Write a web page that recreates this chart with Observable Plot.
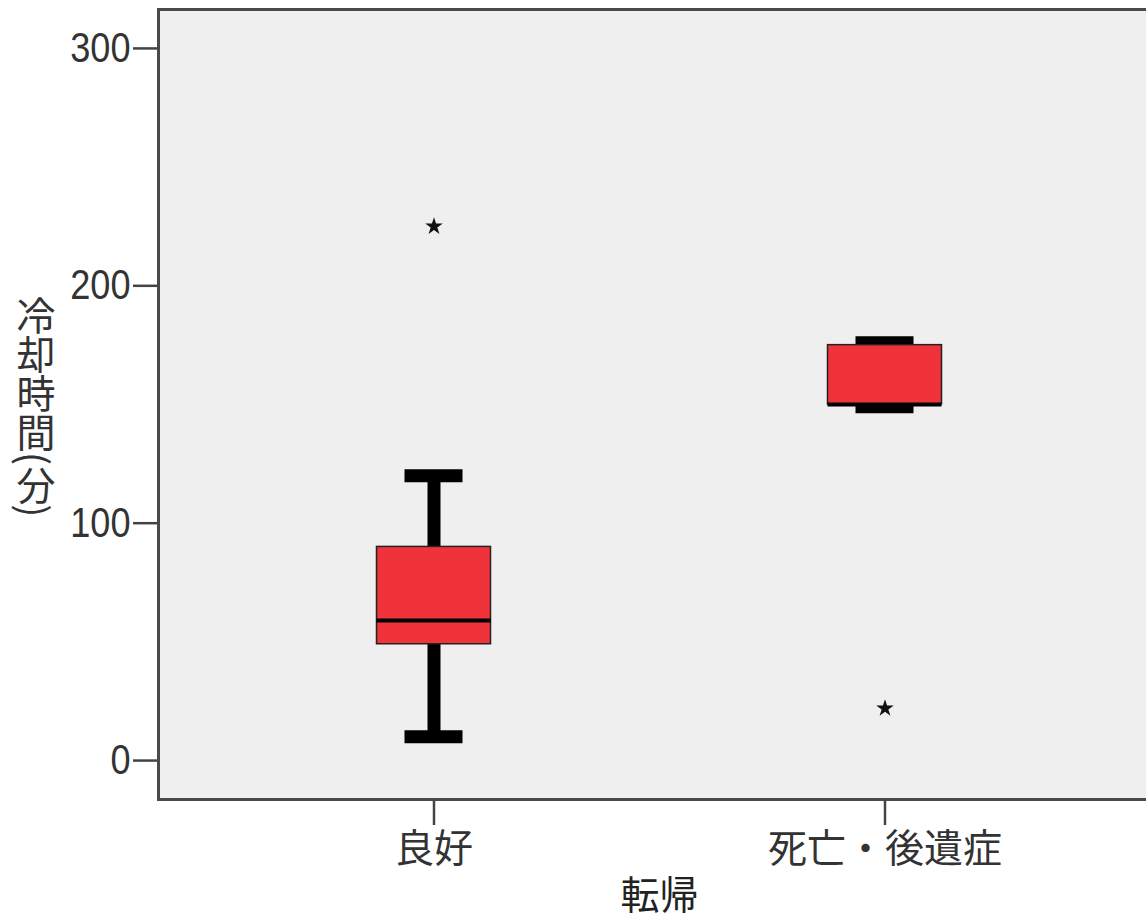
<!DOCTYPE html>
<html>
<head>
<meta charset="utf-8">
<script src="https://cdn.jsdelivr.net/npm/d3@7"></script>
<script src="https://cdn.jsdelivr.net/npm/@observablehq/plot@0.6"></script>
<style>
  html, body { margin: 0; padding: 0; background: white; overflow: hidden; }
  #wrap { position: relative; width: 1146px; height: 920px; overflow: hidden; }
  #ytitle {
    position: absolute; left: 16px; top: 296px;
    writing-mode: vertical-rl; text-orientation: mixed;
    font-family: 'Noto Sans CJK JP', sans-serif; font-size: 39px; line-height: 1;
    color: #333; white-space: nowrap;
  }
  #leftborder {
    position: absolute; left: 156.5px; top: 7.5px; width: 0; height: 793px;
    border-left: 3px solid #4a4a4a; pointer-events: none;
  }
</style>
</head>
<body>
<div id="wrap"><div id="chart"></div><div id="leftborder"></div><div id="ytitle"></div></div>
<script>
const categories = ["良好", "死亡・後遺症"];
const whiskerLow = [10, 149];
const q1 = [49, 150];
const median = [59, 150];
const q3 = [90, 175];
const whiskerHigh = [120, 176];
const outlierCategory = ["良好", "死亡・後遺症"];
const outlierValue = [225, 22];
const yTicks = [0, 100, 200, 300];
const yDomain = [-16.4, 316.4];
const xTitle = "転帰";
const yTitle = "冷却時間(分)";

const boxes = categories.map((c, i) => ({c, lo: whiskerLow[i], q1: q1[i], med: median[i], q3: q3[i], hi: whiskerHigh[i]}));
const outliers = outlierCategory.map((c, i) => ({c, v: outlierValue[i]}));

const boxInset = 168.5;
const capInset = 196.5;

const chart = Plot.plot({
  width: 1146,
  height: 920,
  marginLeft: 158,
  marginRight: 0,
  marginTop: 9,
  marginBottom: 121,
  style: {background: "white", fontFamily: "'Liberation Sans', sans-serif", color: "#333"},
  x: {domain: categories, range: [207.5, 1109.5], padding: 0},
  y: {domain: yDomain},
  marks: [
    Plot.frame({fill: "#efefef", stroke: "none"}),
    // panel border: top and bottom here, the left edge is drawn by #leftborder (the panel runs on past the right edge)
    Plot.ruleY(yDomain, {stroke: "#4a4a4a", strokeWidth: 3}),
    Plot.axisY(yTicks, {tickSize: 25, tickPadding: 3, fontSize: 42, stroke: "#444", strokeWidth: 2.5, label: null}),
    Plot.axisX({tickSize: 26, tickPadding: 9, fontSize: 39, stroke: "#444", strokeWidth: 2.5, label: null, fontFamily: "'Noto Sans CJK JP', sans-serif"}),
    Plot.ruleX(boxes, {x: "c", y1: "lo", y2: "q1", stroke: "black", strokeWidth: 13}),
    Plot.ruleX(boxes, {x: "c", y1: "q3", y2: "hi", stroke: "black", strokeWidth: 13}),
    Plot.tickY(boxes, {x: "c", y: "lo", stroke: "black", strokeWidth: 13, insetLeft: capInset, insetRight: capInset}),
    Plot.tickY(boxes, {x: "c", y: "hi", stroke: "black", strokeWidth: 13, insetLeft: capInset, insetRight: capInset}),
    Plot.barY(boxes, {x: "c", y1: "q1", y2: "q3", fill: "#f0333b", stroke: "#222", strokeWidth: 1.5, insetLeft: boxInset, insetRight: boxInset}),
    Plot.tickY(boxes, {x: "c", y: "med", stroke: "black", strokeWidth: 4, insetLeft: boxInset, insetRight: boxInset}),
    Plot.dot(outliers, {x: "c", y: "v", symbol: "star", r: 5.5, fill: "#111", stroke: "none"}),
    Plot.text([xTitle], {frameAnchor: "bottom", textAnchor: "middle", lineAnchor: "middle", dy: 97, dx: 7, fontSize: 39, fill: "#222", fontFamily: "'Noto Sans CJK JP', sans-serif"})
  ]
});

document.getElementById("chart").appendChild(chart);
document.getElementById("ytitle").textContent = yTitle;

// narrow the y tick digits to match the condensed face of the reference
chart.querySelectorAll('[aria-label="y-axis tick label"] text').forEach(t => {
  const len = t.getComputedTextLength();
  t.setAttribute("textLength", (len * 0.86).toFixed(1));
  t.setAttribute("lengthAdjust", "spacingAndGlyphs");
});
</script>
</body>
</html>
